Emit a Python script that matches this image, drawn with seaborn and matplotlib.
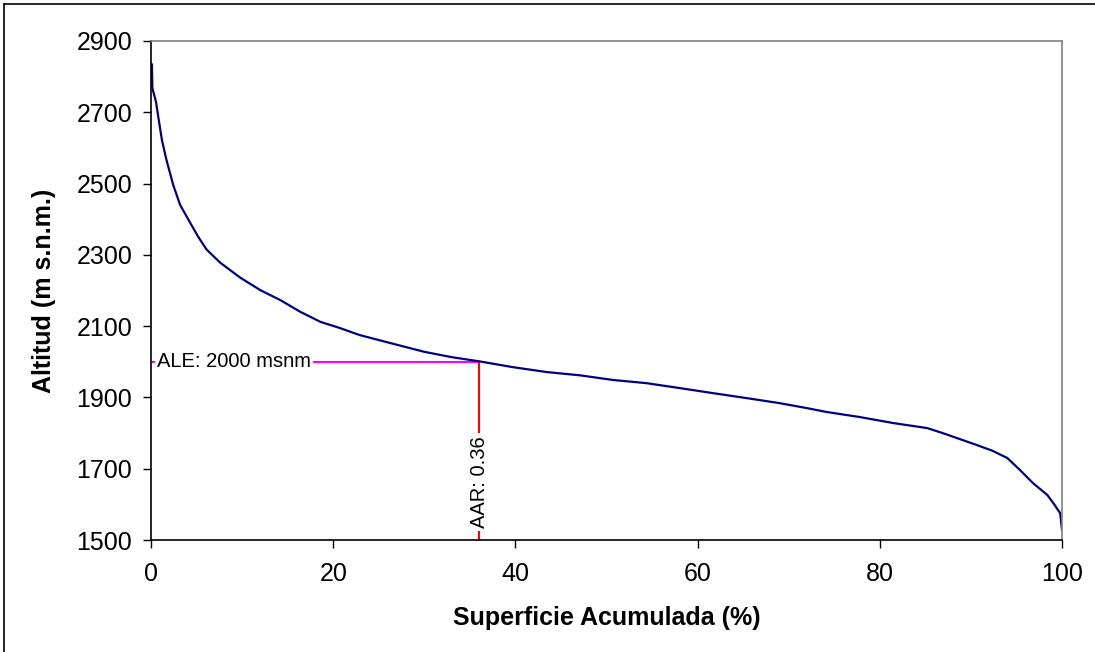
import numpy as np
import matplotlib
matplotlib.use("Agg")
import matplotlib.pyplot as plt
import seaborn as sns
import pandas as pd

# Curva hipsometrica: superficie acumulada (%) vs altitud (m s.n.m.)
superficie = [0.1, 0.15, 0.55, 0.8, 1.2, 1.7, 2.45, 3.2, 4.3, 5.2, 6.1, 7.6, 9.8,
              12.0, 14.2, 16.4, 18.6, 20.7, 22.9, 26.2, 30.0, 33.0, 36.1,
              39.7, 43.5, 47.1, 50.7, 54.4, 58.1, 61.7, 65.4, 69.0, 72.0,
              74.2, 77.8, 81.5, 85.2, 86.9, 88.8, 90.7, 92.4, 94.0, 95.4,
              96.8, 98.4, 99.2, 99.8, 100.0]
altitud = [2835, 2768, 2729, 2687, 2622, 2566, 2495, 2440, 2390, 2350, 2315, 2278, 2236,
           2201, 2173, 2140, 2112, 2095, 2075, 2053, 2028, 2013, 2001,
           1985, 1971, 1962, 1949, 1940, 1926, 1912, 1898, 1884, 1870,
           1859, 1845, 1828, 1814, 1800, 1783, 1766, 1750, 1730, 1696,
           1660, 1626, 1598, 1575, 1528]

ale = 2000
aar = 0.36

df = pd.DataFrame({"sup": superficie, "alt": altitud})

sns.set_style("white")
plt.rcParams["font.family"] = ["Liberation Sans", "DejaVu Sans"]
plt.rcParams["text.color"] = "black"
plt.rcParams["axes.labelcolor"] = "black"

fig = plt.figure(figsize=(10.95, 6.52), dpi=100)
ax = fig.add_axes([151 / 1095, 1 - 540 / 652, 911 / 1095, 499 / 652])

sns.lineplot(data=df, x="sup", y="alt", ax=ax, color="#000080", linewidth=1.6,
             estimator=None, sort=False)

# ALE / AAR
ax.plot([0, aar * 100], [ale, ale], color="#ff00ff", linewidth=1.5, zorder=1)
ax.plot([aar * 100, aar * 100], [ale, 1500], color="#ff0000", linewidth=1.5, zorder=1)
ax.text(0.66, ale, "ALE: 2000 msnm", fontsize=14.5, ha="left", va="center",
        bbox=dict(facecolor="white", edgecolor="none", pad=1.5), zorder=3)
ax.text(aar * 100 + 0.1, 1663, "AAR: 0.36", fontsize=14.5, rotation=90,
        ha="center", va="center",
        bbox=dict(facecolor="white", edgecolor="none", pad=2.5), zorder=3)

ax.set_xlim(0, 100)
ax.set_ylim(1500, 2900)
ax.set_xticks(range(0, 101, 20))
ax.set_yticks(range(1500, 2901, 200))
ax.tick_params(direction="out", length=5.5, width=1, labelsize=18, colors="black")
ax.tick_params(axis="y", pad=8)
ax.tick_params(axis="x", pad=10)
ax.tick_params(left=True, bottom=True)

ax.set_xlabel("Superficie Acumulada (%)", fontsize=18, fontweight="bold")
ax.set_ylabel("Altitud (m s.n.m.)", fontsize=18, fontweight="bold")
ax.xaxis.set_label_coords(0.5, -0.132)
ax.yaxis.set_label_coords(-0.104, 0.5)

for s in ["left", "bottom"]:
    ax.spines[s].set_color("black")
    ax.spines[s].set_linewidth(1.2)
for s in ["top", "right"]:
    ax.spines[s].set_color("#808080")
    ax.spines[s].set_linewidth(1.2)

# marco exterior (superior e izquierdo)
fig.add_artist(plt.Line2D([4 / 1095, 1], [1 - 4 / 652, 1 - 4 / 652],
                          transform=fig.transFigure, color="black", linewidth=1.2))
fig.add_artist(plt.Line2D([4 / 1095, 4 / 1095], [0, 1 - 4 / 652],
                          transform=fig.transFigure, color="black", linewidth=1.2))

fig.savefig("out.png", dpi=100)
